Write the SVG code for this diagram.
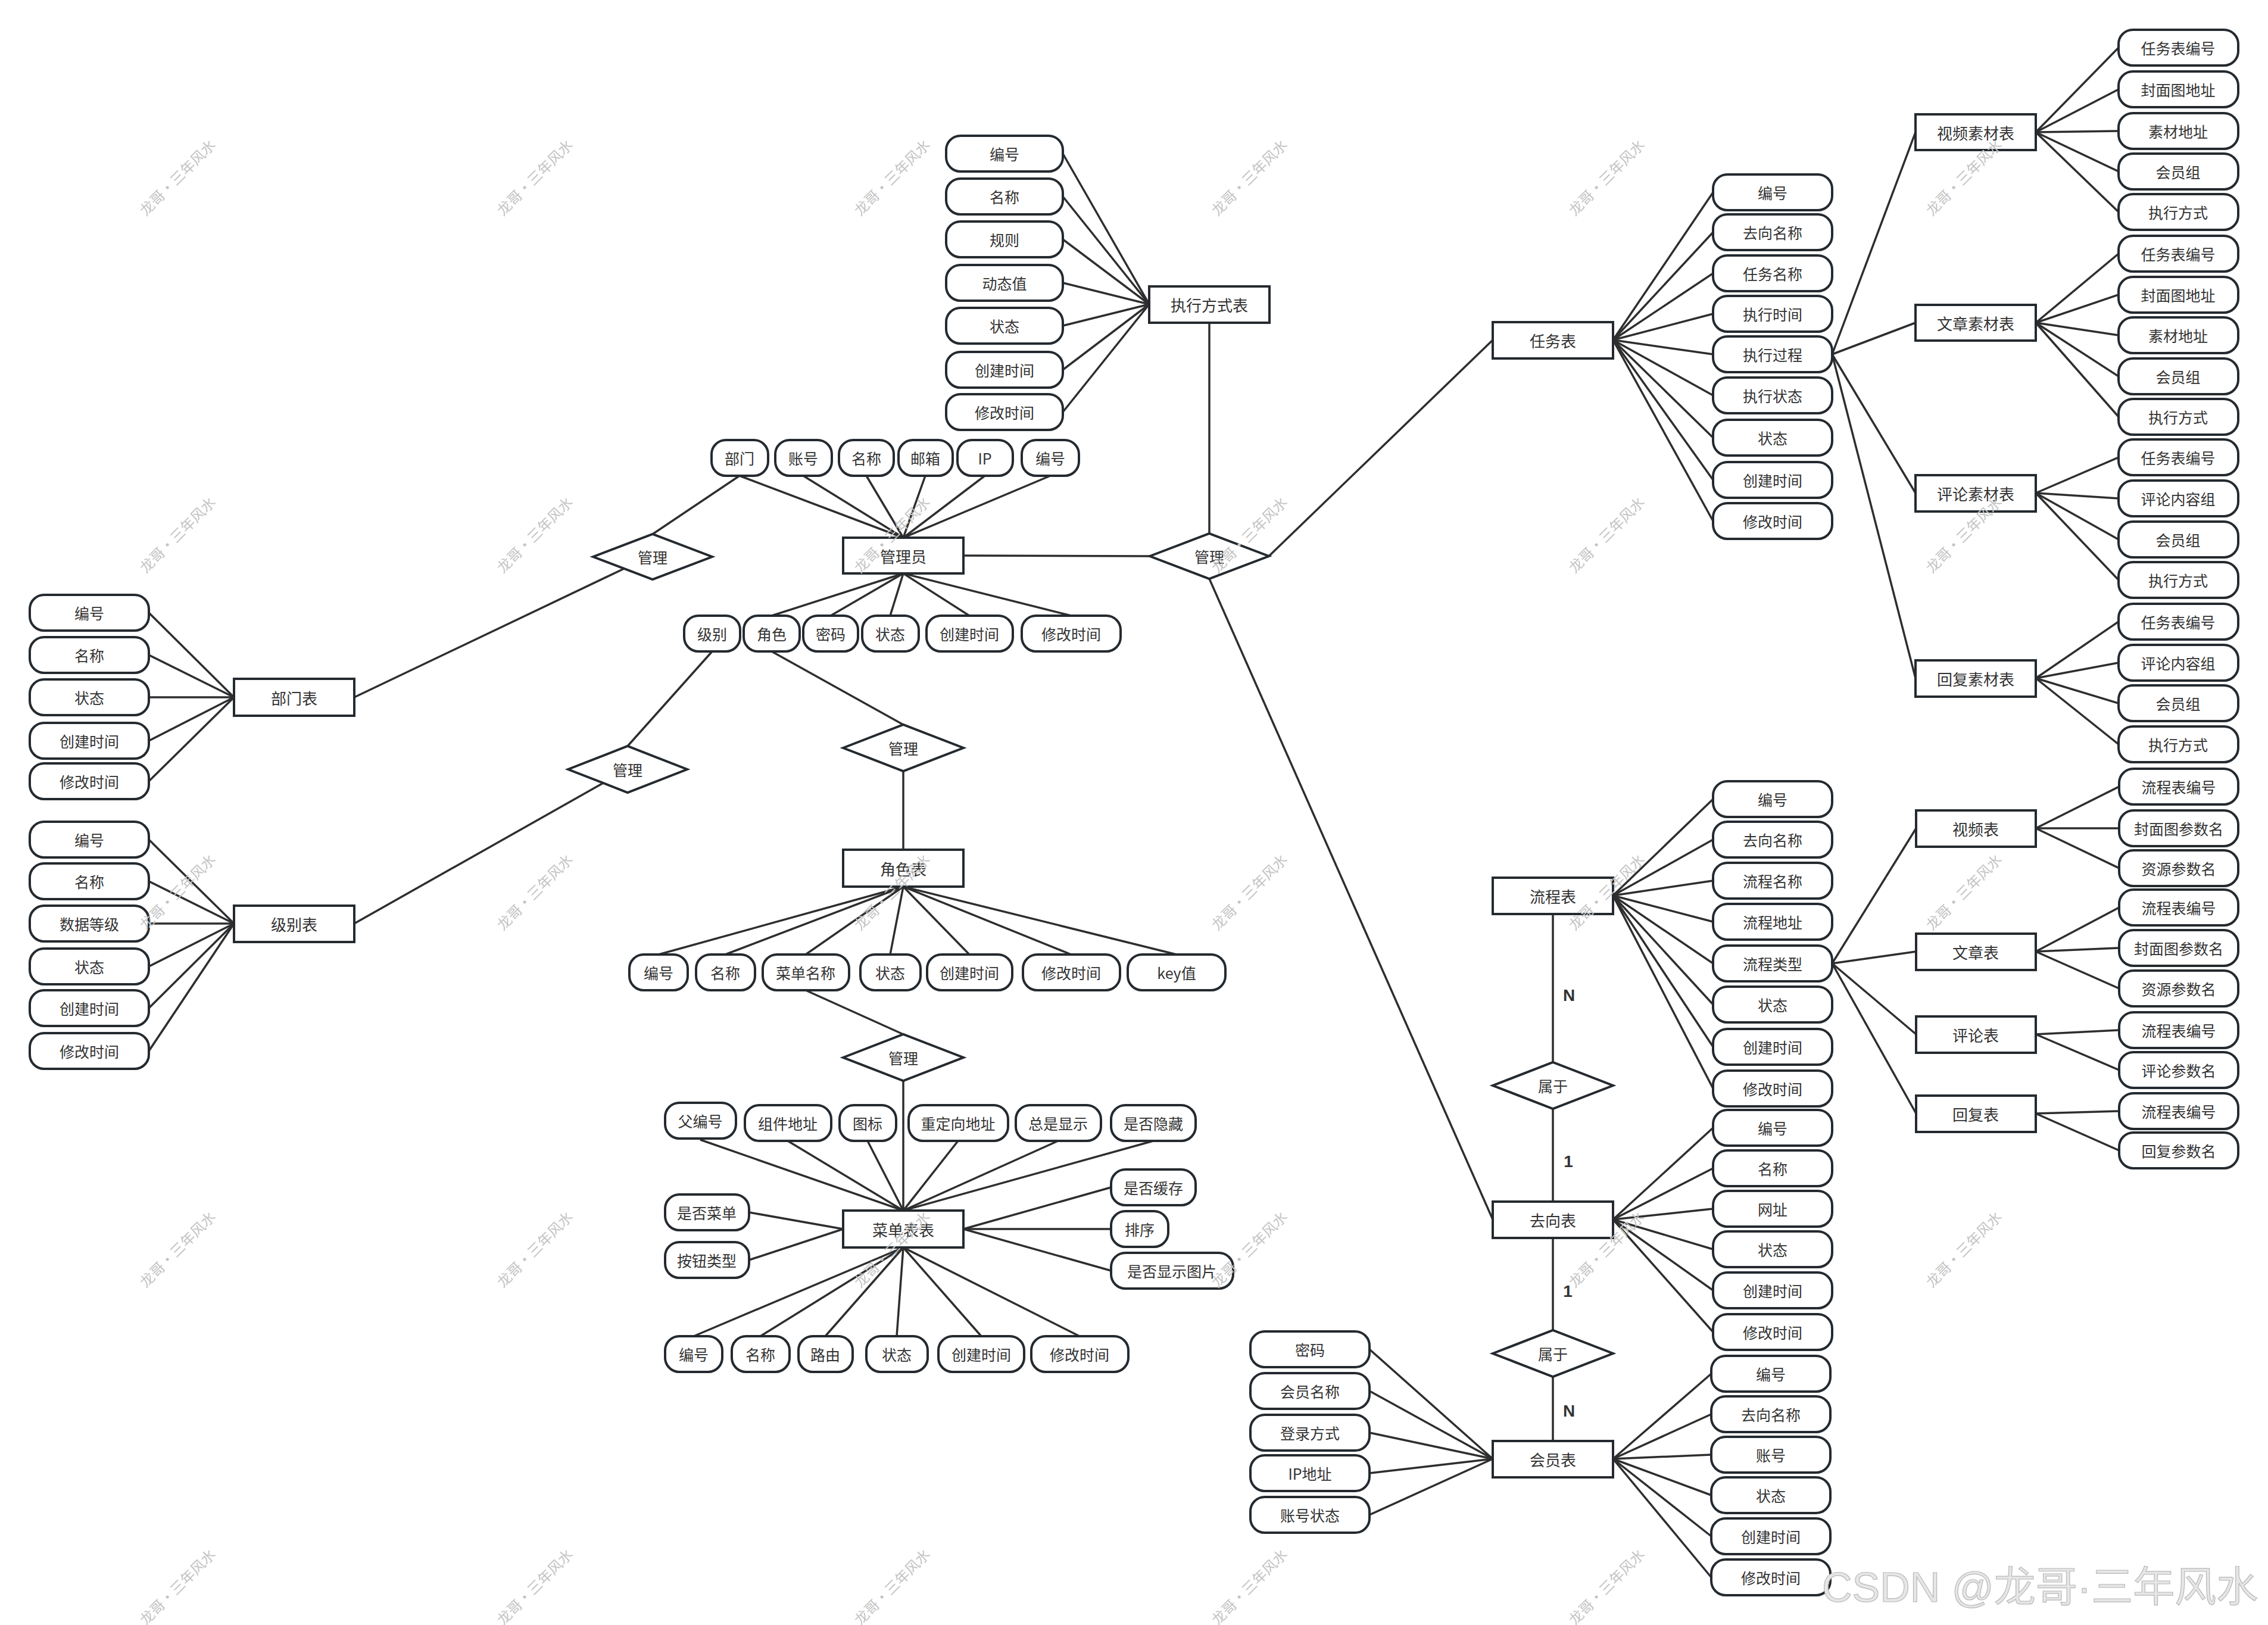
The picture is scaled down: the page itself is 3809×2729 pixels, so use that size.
<svg xmlns="http://www.w3.org/2000/svg" width="3809" height="2729" viewBox="0 0 3809 2729">
<style>
.a{fill:#fff;stroke:#242a2f;stroke-width:4}
.e{fill:#fff;stroke:#242a2f;stroke-width:4}
.d{fill:#fff;stroke:#242a2f;stroke-width:4}
.t{font-family:"Noto Sans CJK SC","Noto Sans",sans-serif;font-size:25px;fill:#333;text-anchor:middle;dominant-baseline:central}
.te{font-size:26px}
.lbl{font-family:"Liberation Sans",Arial,sans-serif;font-weight:bold;font-size:28px;fill:#333;text-anchor:middle;dominant-baseline:central}
#connectors line{stroke:#2e2e2e;stroke-width:3.5}
.wm{font-family:"Noto Sans CJK SC",sans-serif;font-size:24px;fill:#c4c4c4;text-anchor:middle;dominant-baseline:central}
.csdn{font-family:"Liberation Sans","Noto Sans CJK SC",sans-serif;font-size:70px;fill:#e6e6e6;stroke:#b8b8b8;stroke-width:1.2}
</style>
<rect width="3809" height="2729" fill="#fff"/>
<g id="connectors">
<line x1="1785" y1="258" x2="1930" y2="511"/>
<line x1="1785" y1="330" x2="1930" y2="511"/>
<line x1="1785" y1="402" x2="1930" y2="511"/>
<line x1="1785" y1="475" x2="1930" y2="511"/>
<line x1="1785" y1="547" x2="1930" y2="511"/>
<line x1="1785" y1="621" x2="1930" y2="511"/>
<line x1="1785" y1="692" x2="1930" y2="511"/>
<line x1="2031" y1="542" x2="2031" y2="896"/>
<line x1="1242" y1="799" x2="1517" y2="903"/>
<line x1="1349" y1="799" x2="1517" y2="903"/>
<line x1="1455" y1="799" x2="1517" y2="903"/>
<line x1="1554" y1="799" x2="1517" y2="903"/>
<line x1="1654" y1="799" x2="1517" y2="903"/>
<line x1="1764" y1="799" x2="1517" y2="903"/>
<line x1="1517" y1="963" x2="1296" y2="1034"/>
<line x1="1517" y1="963" x2="1395" y2="1034"/>
<line x1="1517" y1="963" x2="1495" y2="1034"/>
<line x1="1517" y1="963" x2="1628" y2="1034"/>
<line x1="1517" y1="963" x2="1799" y2="1034"/>
<line x1="1242" y1="799" x2="1096" y2="897"/>
<line x1="595" y1="1171" x2="1048" y2="955"/>
<line x1="1196" y1="1094" x2="1054" y2="1253"/>
<line x1="595" y1="1551" x2="1013" y2="1315"/>
<line x1="1296" y1="1094" x2="1517" y2="1217"/>
<line x1="1517" y1="1295" x2="1517" y2="1427"/>
<line x1="1517" y1="1489" x2="1106" y2="1603"/>
<line x1="1517" y1="1489" x2="1218" y2="1603"/>
<line x1="1517" y1="1489" x2="1353" y2="1603"/>
<line x1="1517" y1="1489" x2="1495" y2="1603"/>
<line x1="1517" y1="1489" x2="1628" y2="1603"/>
<line x1="1517" y1="1489" x2="1799" y2="1603"/>
<line x1="1517" y1="1489" x2="1976" y2="1603"/>
<line x1="1353" y1="1663" x2="1517" y2="1737"/>
<line x1="1517" y1="1815" x2="1517" y2="2033"/>
<line x1="1176" y1="1914" x2="1517" y2="2033"/>
<line x1="1323" y1="1916" x2="1517" y2="2033"/>
<line x1="1457" y1="1916" x2="1517" y2="2033"/>
<line x1="1609" y1="1916" x2="1517" y2="2033"/>
<line x1="1777" y1="1916" x2="1517" y2="2033"/>
<line x1="1937" y1="1916" x2="1517" y2="2033"/>
<line x1="1258" y1="2036" x2="1416" y2="2064"/>
<line x1="1258" y1="2116" x2="1416" y2="2064"/>
<line x1="1618" y1="2064" x2="1866" y2="1994"/>
<line x1="1618" y1="2064" x2="1866" y2="2064"/>
<line x1="1618" y1="2064" x2="1866" y2="2134"/>
<line x1="1517" y1="2095" x2="1165" y2="2244"/>
<line x1="1517" y1="2095" x2="1277" y2="2244"/>
<line x1="1517" y1="2095" x2="1386" y2="2244"/>
<line x1="1517" y1="2095" x2="1506" y2="2244"/>
<line x1="1517" y1="2095" x2="1648" y2="2244"/>
<line x1="1517" y1="2095" x2="1813" y2="2244"/>
<line x1="1618" y1="933" x2="1931" y2="934"/>
<line x1="2131" y1="934" x2="2507" y2="571"/>
<line x1="2031" y1="972" x2="2507" y2="2048"/>
<line x1="2709" y1="571" x2="2877" y2="323"/>
<line x1="2709" y1="571" x2="2877" y2="390"/>
<line x1="2709" y1="571" x2="2877" y2="459"/>
<line x1="2709" y1="571" x2="2877" y2="527"/>
<line x1="2709" y1="571" x2="2877" y2="595"/>
<line x1="2709" y1="571" x2="2877" y2="664"/>
<line x1="2709" y1="571" x2="2877" y2="735"/>
<line x1="2709" y1="571" x2="2877" y2="806"/>
<line x1="2709" y1="571" x2="2877" y2="875"/>
<line x1="3077" y1="595" x2="3217" y2="222"/>
<line x1="3077" y1="595" x2="3217" y2="542"/>
<line x1="3077" y1="595" x2="3217" y2="828"/>
<line x1="3077" y1="595" x2="3217" y2="1139"/>
<line x1="3419" y1="222" x2="3558" y2="80"/>
<line x1="3419" y1="222" x2="3558" y2="150"/>
<line x1="3419" y1="222" x2="3558" y2="220"/>
<line x1="3419" y1="222" x2="3558" y2="288"/>
<line x1="3419" y1="222" x2="3558" y2="356"/>
<line x1="3419" y1="542" x2="3558" y2="426"/>
<line x1="3419" y1="542" x2="3558" y2="495"/>
<line x1="3419" y1="542" x2="3558" y2="563"/>
<line x1="3419" y1="542" x2="3558" y2="632"/>
<line x1="3419" y1="542" x2="3558" y2="700"/>
<line x1="3419" y1="828" x2="3558" y2="768"/>
<line x1="3419" y1="828" x2="3558" y2="837"/>
<line x1="3419" y1="828" x2="3558" y2="906"/>
<line x1="3419" y1="828" x2="3558" y2="974"/>
<line x1="3419" y1="1139" x2="3558" y2="1044"/>
<line x1="3419" y1="1139" x2="3558" y2="1113"/>
<line x1="3419" y1="1139" x2="3558" y2="1181"/>
<line x1="3419" y1="1139" x2="3558" y2="1250"/>
<line x1="2709" y1="1504" x2="2877" y2="1342"/>
<line x1="2709" y1="1504" x2="2877" y2="1410"/>
<line x1="2709" y1="1504" x2="2877" y2="1479"/>
<line x1="2709" y1="1504" x2="2877" y2="1548"/>
<line x1="2709" y1="1504" x2="2877" y2="1618"/>
<line x1="2709" y1="1504" x2="2877" y2="1687"/>
<line x1="2709" y1="1504" x2="2877" y2="1758"/>
<line x1="2709" y1="1504" x2="2877" y2="1828"/>
<line x1="2608" y1="1535" x2="2608" y2="1784"/>
<line x1="2608" y1="1862" x2="2608" y2="2018"/>
<line x1="2709" y1="2048" x2="2877" y2="1894"/>
<line x1="2709" y1="2048" x2="2877" y2="1962"/>
<line x1="2709" y1="2048" x2="2877" y2="2030"/>
<line x1="2709" y1="2048" x2="2877" y2="2098"/>
<line x1="2709" y1="2048" x2="2877" y2="2167"/>
<line x1="2709" y1="2048" x2="2877" y2="2237"/>
<line x1="2608" y1="2079" x2="2608" y2="2234"/>
<line x1="2608" y1="2312" x2="2608" y2="2420"/>
<line x1="2300" y1="2266" x2="2507" y2="2450"/>
<line x1="2300" y1="2336" x2="2507" y2="2450"/>
<line x1="2300" y1="2406" x2="2507" y2="2450"/>
<line x1="2300" y1="2474" x2="2507" y2="2450"/>
<line x1="2300" y1="2544" x2="2507" y2="2450"/>
<line x1="2709" y1="2450" x2="2874" y2="2307"/>
<line x1="2709" y1="2450" x2="2874" y2="2375"/>
<line x1="2709" y1="2450" x2="2874" y2="2443"/>
<line x1="2709" y1="2450" x2="2874" y2="2511"/>
<line x1="2709" y1="2450" x2="2874" y2="2580"/>
<line x1="2709" y1="2450" x2="2874" y2="2649"/>
<line x1="3077" y1="1618" x2="3218" y2="1391"/>
<line x1="3077" y1="1618" x2="3218" y2="1598"/>
<line x1="3077" y1="1618" x2="3218" y2="1737"/>
<line x1="3077" y1="1618" x2="3218" y2="1870"/>
<line x1="3419" y1="1391" x2="3559" y2="1321"/>
<line x1="3419" y1="1391" x2="3559" y2="1391"/>
<line x1="3419" y1="1391" x2="3559" y2="1458"/>
<line x1="3419" y1="1598" x2="3559" y2="1524"/>
<line x1="3419" y1="1598" x2="3559" y2="1592"/>
<line x1="3419" y1="1598" x2="3559" y2="1660"/>
<line x1="3419" y1="1737" x2="3559" y2="1730"/>
<line x1="3419" y1="1737" x2="3559" y2="1797"/>
<line x1="3419" y1="1870" x2="3559" y2="1866"/>
<line x1="3419" y1="1870" x2="3559" y2="1932"/>
<line x1="250" y1="1029" x2="393" y2="1171"/>
<line x1="250" y1="1100" x2="393" y2="1171"/>
<line x1="250" y1="1171" x2="393" y2="1171"/>
<line x1="250" y1="1244" x2="393" y2="1171"/>
<line x1="250" y1="1312" x2="393" y2="1171"/>
<line x1="250" y1="1410" x2="393" y2="1551"/>
<line x1="250" y1="1480" x2="393" y2="1551"/>
<line x1="250" y1="1551" x2="393" y2="1551"/>
<line x1="250" y1="1623" x2="393" y2="1551"/>
<line x1="250" y1="1693" x2="393" y2="1551"/>
<line x1="250" y1="1765" x2="393" y2="1551"/>
</g>

<!-- 执行方式表 -->
<g id="exec-mode-table"><rect class="e" x="1930" y="481" width="202" height="61"/><text class="t te" x="2031" y="511">执行方式表</text></g>
<g id="exec-attr-1"><rect class="a" x="1589" y="228" width="196" height="60" rx="24"/><text class="t" x="1687" y="258">编号</text></g>
<g id="exec-attr-2"><rect class="a" x="1589" y="300" width="196" height="60" rx="24"/><text class="t" x="1687" y="330">名称</text></g>
<g id="exec-attr-3"><rect class="a" x="1589" y="372" width="196" height="60" rx="24"/><text class="t" x="1687" y="402">规则</text></g>
<g id="exec-attr-4"><rect class="a" x="1589" y="445" width="196" height="60" rx="24"/><text class="t" x="1687" y="475">动态值</text></g>
<g id="exec-attr-5"><rect class="a" x="1589" y="517" width="196" height="60" rx="24"/><text class="t" x="1687" y="547">状态</text></g>
<g id="exec-attr-6"><rect class="a" x="1589" y="591" width="196" height="60" rx="24"/><text class="t" x="1687" y="621">创建时间</text></g>
<g id="exec-attr-7"><rect class="a" x="1589" y="662" width="196" height="60" rx="24"/><text class="t" x="1687" y="692">修改时间</text></g>

<!-- 管理员 -->
<g id="admin"><rect class="e" x="1416" y="903" width="202" height="60"/><text class="t te" x="1517" y="933">管理员</text></g>
<g id="admin-attr-dept"><rect class="a" x="1195" y="739" width="95" height="60" rx="24"/><text class="t" x="1242" y="769">部门</text></g>
<g id="admin-attr-account"><rect class="a" x="1302" y="739" width="95" height="60" rx="24"/><text class="t" x="1349" y="769">账号</text></g>
<g id="admin-attr-name"><rect class="a" x="1409" y="739" width="92" height="60" rx="24"/><text class="t" x="1455" y="769">名称</text></g>
<g id="admin-attr-mail"><rect class="a" x="1509" y="739" width="91" height="60" rx="24"/><text class="t" x="1554" y="769">邮箱</text></g>
<g id="admin-attr-ip"><rect class="a" x="1608" y="739" width="93" height="60" rx="24"/><text class="t" x="1654" y="769">IP</text></g>
<g id="admin-attr-id"><rect class="a" x="1716" y="739" width="96" height="60" rx="24"/><text class="t" x="1764" y="769">编号</text></g>
<g id="admin-attr-level"><rect class="a" x="1149" y="1034" width="94" height="60" rx="24"/><text class="t" x="1196" y="1064">级别</text></g>
<g id="admin-attr-role"><rect class="a" x="1249" y="1034" width="94" height="60" rx="24"/><text class="t" x="1296" y="1064">角色</text></g>
<g id="admin-attr-pwd"><rect class="a" x="1349" y="1034" width="92" height="60" rx="24"/><text class="t" x="1395" y="1064">密码</text></g>
<g id="admin-attr-status"><rect class="a" x="1448" y="1034" width="95" height="60" rx="24"/><text class="t" x="1495" y="1064">状态</text></g>
<g id="admin-attr-ctime"><rect class="a" x="1556" y="1034" width="145" height="60" rx="24"/><text class="t" x="1628" y="1064">创建时间</text></g>
<g id="admin-attr-mtime"><rect class="a" x="1716" y="1034" width="166" height="60" rx="24"/><text class="t" x="1799" y="1064">修改时间</text></g>

<!-- diamonds -->
<g id="rel-admin-dept"><polygon class="d" points="996,935 1096,897 1196,935 1096,973"/><text class="t" x="1096" y="935">管理</text></g>
<g id="rel-admin-level"><polygon class="d" points="954,1292 1054,1253 1154,1292 1054,1331"/><text class="t" x="1054" y="1292">管理</text></g>
<g id="rel-admin-role"><polygon class="d" points="1416,1256 1517,1217 1618,1256 1517,1295"/><text class="t" x="1517" y="1256">管理</text></g>
<g id="rel-role-menu"><polygon class="d" points="1416,1776 1517,1737 1618,1776 1517,1815"/><text class="t" x="1517" y="1776">管理</text></g>
<g id="rel-admin-main"><polygon class="d" points="1931,934 2031,896 2131,934 2031,972"/><text class="t" x="2031" y="934">管理</text></g>
<g id="rel-flow-dest"><polygon class="d" points="2507,1823 2608,1784 2709,1823 2608,1862"/><text class="t" x="2608" y="1823">属于</text></g>
<g id="rel-dest-member"><polygon class="d" points="2507,2273 2608,2234 2709,2273 2608,2312"/><text class="t" x="2608" y="2273">属于</text></g>

<!-- 部门表 -->
<g id="dept-table"><rect class="e" x="393" y="1140" width="202" height="62"/><text class="t te" x="494" y="1171">部门表</text></g>
<g id="dept-attr-1"><rect class="a" x="50" y="999" width="200" height="60" rx="24"/><text class="t" x="150" y="1029">编号</text></g>
<g id="dept-attr-2"><rect class="a" x="50" y="1070" width="200" height="60" rx="24"/><text class="t" x="150" y="1100">名称</text></g>
<g id="dept-attr-3"><rect class="a" x="50" y="1141" width="200" height="60" rx="24"/><text class="t" x="150" y="1171">状态</text></g>
<g id="dept-attr-4"><rect class="a" x="50" y="1214" width="200" height="60" rx="24"/><text class="t" x="150" y="1244">创建时间</text></g>
<g id="dept-attr-5"><rect class="a" x="50" y="1282" width="200" height="60" rx="24"/><text class="t" x="150" y="1312">修改时间</text></g>

<!-- 级别表 -->
<g id="level-table"><rect class="e" x="393" y="1521" width="202" height="61"/><text class="t te" x="494" y="1551">级别表</text></g>
<g id="level-attr-1"><rect class="a" x="50" y="1380" width="200" height="60" rx="24"/><text class="t" x="150" y="1410">编号</text></g>
<g id="level-attr-2"><rect class="a" x="50" y="1450" width="200" height="60" rx="24"/><text class="t" x="150" y="1480">名称</text></g>
<g id="level-attr-3"><rect class="a" x="50" y="1521" width="200" height="60" rx="24"/><text class="t" x="150" y="1551">数据等级</text></g>
<g id="level-attr-4"><rect class="a" x="50" y="1593" width="200" height="60" rx="24"/><text class="t" x="150" y="1623">状态</text></g>
<g id="level-attr-5"><rect class="a" x="50" y="1663" width="200" height="60" rx="24"/><text class="t" x="150" y="1693">创建时间</text></g>
<g id="level-attr-6"><rect class="a" x="50" y="1735" width="200" height="60" rx="24"/><text class="t" x="150" y="1765">修改时间</text></g>

<!-- 角色表 -->
<g id="role-table"><rect class="e" x="1416" y="1427" width="202" height="62"/><text class="t te" x="1517" y="1458">角色表</text></g>
<g id="role-attr-1"><rect class="a" x="1057" y="1603" width="98" height="60" rx="24"/><text class="t" x="1106" y="1633">编号</text></g>
<g id="role-attr-2"><rect class="a" x="1169" y="1603" width="99" height="60" rx="24"/><text class="t" x="1218" y="1633">名称</text></g>
<g id="role-attr-3"><rect class="a" x="1281" y="1603" width="145" height="60" rx="24"/><text class="t" x="1353" y="1633">菜单名称</text></g>
<g id="role-attr-4"><rect class="a" x="1445" y="1603" width="101" height="60" rx="24"/><text class="t" x="1495" y="1633">状态</text></g>
<g id="role-attr-5"><rect class="a" x="1557" y="1603" width="143" height="60" rx="24"/><text class="t" x="1628" y="1633">创建时间</text></g>
<g id="role-attr-6"><rect class="a" x="1718" y="1603" width="163" height="60" rx="24"/><text class="t" x="1799" y="1633">修改时间</text></g>
<g id="role-attr-7"><rect class="a" x="1894" y="1603" width="164" height="60" rx="24"/><text class="t" x="1976" y="1633">key值</text></g>

<!-- 菜单表表 -->
<g id="menu-table"><rect class="e" x="1416" y="2033" width="202" height="62"/><text class="t te" x="1517" y="2064">菜单表表</text></g>
<g id="menu-attr-parent"><rect class="a" x="1117" y="1852" width="119" height="60" rx="24"/><text class="t" x="1176" y="1882">父编号</text></g>
<g id="menu-attr-comp"><rect class="a" x="1251" y="1856" width="145" height="60" rx="24"/><text class="t" x="1323" y="1886">组件地址</text></g>
<g id="menu-attr-icon"><rect class="a" x="1410" y="1856" width="95" height="60" rx="24"/><text class="t" x="1457" y="1886">图标</text></g>
<g id="menu-attr-redirect"><rect class="a" x="1526" y="1856" width="167" height="60" rx="24"/><text class="t" x="1609" y="1886">重定向地址</text></g>
<g id="menu-attr-always"><rect class="a" x="1706" y="1856" width="143" height="60" rx="24"/><text class="t" x="1777" y="1886">总是显示</text></g>
<g id="menu-attr-hidden"><rect class="a" x="1866" y="1856" width="142" height="60" rx="24"/><text class="t" x="1937" y="1886">是否隐藏</text></g>
<g id="menu-attr-ismenu"><rect class="a" x="1117" y="2006" width="141" height="60" rx="24"/><text class="t" x="1187" y="2036">是否菜单</text></g>
<g id="menu-attr-btn"><rect class="a" x="1117" y="2086" width="141" height="60" rx="24"/><text class="t" x="1187" y="2116">按钮类型</text></g>
<g id="menu-attr-cache"><rect class="a" x="1866" y="1964" width="142" height="60" rx="24"/><text class="t" x="1937" y="1994">是否缓存</text></g>
<g id="menu-attr-sort"><rect class="a" x="1866" y="2034" width="96" height="60" rx="24"/><text class="t" x="1914" y="2064">排序</text></g>
<g id="menu-attr-img"><rect class="a" x="1866" y="2104" width="205" height="60" rx="24"/><text class="t" x="1968" y="2134">是否显示图片</text></g>
<g id="menu-attr-id"><rect class="a" x="1117" y="2244" width="96" height="60" rx="24"/><text class="t" x="1165" y="2274">编号</text></g>
<g id="menu-attr-name"><rect class="a" x="1229" y="2244" width="97" height="60" rx="24"/><text class="t" x="1277" y="2274">名称</text></g>
<g id="menu-attr-route"><rect class="a" x="1341" y="2244" width="91" height="60" rx="24"/><text class="t" x="1386" y="2274">路由</text></g>
<g id="menu-attr-status"><rect class="a" x="1455" y="2244" width="103" height="60" rx="24"/><text class="t" x="1506" y="2274">状态</text></g>
<g id="menu-attr-ctime"><rect class="a" x="1576" y="2244" width="144" height="60" rx="24"/><text class="t" x="1648" y="2274">创建时间</text></g>
<g id="menu-attr-mtime"><rect class="a" x="1732" y="2244" width="163" height="60" rx="24"/><text class="t" x="1813" y="2274">修改时间</text></g>

<!-- 任务表 -->
<g id="task-table"><rect class="e" x="2507" y="541" width="202" height="61"/><text class="t te" x="2608" y="571">任务表</text></g>
<g id="task-attr-1"><rect class="a" x="2877" y="293" width="200" height="60" rx="24"/><text class="t" x="2977" y="323">编号</text></g>
<g id="task-attr-2"><rect class="a" x="2877" y="360" width="200" height="60" rx="24"/><text class="t" x="2977" y="390">去向名称</text></g>
<g id="task-attr-3"><rect class="a" x="2877" y="429" width="200" height="60" rx="24"/><text class="t" x="2977" y="459">任务名称</text></g>
<g id="task-attr-4"><rect class="a" x="2877" y="497" width="200" height="60" rx="24"/><text class="t" x="2977" y="527">执行时间</text></g>
<g id="task-attr-5"><rect class="a" x="2877" y="565" width="200" height="60" rx="24"/><text class="t" x="2977" y="595">执行过程</text></g>
<g id="task-attr-6"><rect class="a" x="2877" y="634" width="200" height="60" rx="24"/><text class="t" x="2977" y="664">执行状态</text></g>
<g id="task-attr-7"><rect class="a" x="2877" y="705" width="200" height="60" rx="24"/><text class="t" x="2977" y="735">状态</text></g>
<g id="task-attr-8"><rect class="a" x="2877" y="776" width="200" height="60" rx="24"/><text class="t" x="2977" y="806">创建时间</text></g>
<g id="task-attr-9"><rect class="a" x="2877" y="845" width="200" height="60" rx="24"/><text class="t" x="2977" y="875">修改时间</text></g>

<!-- 素材表 -->
<g id="video-material"><rect class="e" x="3217" y="192" width="202" height="60"/><text class="t te" x="3318" y="222">视频素材表</text></g>
<g id="article-material"><rect class="e" x="3217" y="512" width="202" height="60"/><text class="t te" x="3318" y="542">文章素材表</text></g>
<g id="comment-material"><rect class="e" x="3217" y="798" width="202" height="61"/><text class="t te" x="3318" y="828">评论素材表</text></g>
<g id="reply-material"><rect class="e" x="3217" y="1109" width="202" height="61"/><text class="t te" x="3318" y="1139">回复素材表</text></g>
<g id="vm-attr-1"><rect class="a" x="3558" y="50" width="201" height="60" rx="24"/><text class="t" x="3658" y="80">任务表编号</text></g>
<g id="vm-attr-2"><rect class="a" x="3558" y="120" width="201" height="60" rx="24"/><text class="t" x="3658" y="150">封面图地址</text></g>
<g id="vm-attr-3"><rect class="a" x="3558" y="190" width="201" height="60" rx="24"/><text class="t" x="3658" y="220">素材地址</text></g>
<g id="vm-attr-4"><rect class="a" x="3558" y="258" width="201" height="60" rx="24"/><text class="t" x="3658" y="288">会员组</text></g>
<g id="vm-attr-5"><rect class="a" x="3558" y="326" width="201" height="60" rx="24"/><text class="t" x="3658" y="356">执行方式</text></g>
<g id="am-attr-1"><rect class="a" x="3558" y="396" width="201" height="60" rx="24"/><text class="t" x="3658" y="426">任务表编号</text></g>
<g id="am-attr-2"><rect class="a" x="3558" y="465" width="201" height="60" rx="24"/><text class="t" x="3658" y="495">封面图地址</text></g>
<g id="am-attr-3"><rect class="a" x="3558" y="533" width="201" height="60" rx="24"/><text class="t" x="3658" y="563">素材地址</text></g>
<g id="am-attr-4"><rect class="a" x="3558" y="602" width="201" height="60" rx="24"/><text class="t" x="3658" y="632">会员组</text></g>
<g id="am-attr-5"><rect class="a" x="3558" y="670" width="201" height="60" rx="24"/><text class="t" x="3658" y="700">执行方式</text></g>
<g id="cm-attr-1"><rect class="a" x="3558" y="738" width="201" height="60" rx="24"/><text class="t" x="3658" y="768">任务表编号</text></g>
<g id="cm-attr-2"><rect class="a" x="3558" y="807" width="201" height="60" rx="24"/><text class="t" x="3658" y="837">评论内容组</text></g>
<g id="cm-attr-3"><rect class="a" x="3558" y="876" width="201" height="60" rx="24"/><text class="t" x="3658" y="906">会员组</text></g>
<g id="cm-attr-4"><rect class="a" x="3558" y="944" width="201" height="60" rx="24"/><text class="t" x="3658" y="974">执行方式</text></g>
<g id="rm-attr-1"><rect class="a" x="3558" y="1014" width="201" height="60" rx="24"/><text class="t" x="3658" y="1044">任务表编号</text></g>
<g id="rm-attr-2"><rect class="a" x="3558" y="1083" width="201" height="60" rx="24"/><text class="t" x="3658" y="1113">评论内容组</text></g>
<g id="rm-attr-3"><rect class="a" x="3558" y="1151" width="201" height="60" rx="24"/><text class="t" x="3658" y="1181">会员组</text></g>
<g id="rm-attr-4"><rect class="a" x="3558" y="1220" width="201" height="60" rx="24"/><text class="t" x="3658" y="1250">执行方式</text></g>

<!-- 流程表 -->
<g id="flow-table"><rect class="e" x="2507" y="1474" width="202" height="61"/><text class="t te" x="2608" y="1504">流程表</text></g>
<g id="flow-attr-1"><rect class="a" x="2877" y="1312" width="200" height="60" rx="24"/><text class="t" x="2977" y="1342">编号</text></g>
<g id="flow-attr-2"><rect class="a" x="2877" y="1380" width="200" height="60" rx="24"/><text class="t" x="2977" y="1410">去向名称</text></g>
<g id="flow-attr-3"><rect class="a" x="2877" y="1449" width="200" height="60" rx="24"/><text class="t" x="2977" y="1479">流程名称</text></g>
<g id="flow-attr-4"><rect class="a" x="2877" y="1518" width="200" height="60" rx="24"/><text class="t" x="2977" y="1548">流程地址</text></g>
<g id="flow-attr-5"><rect class="a" x="2877" y="1588" width="200" height="60" rx="24"/><text class="t" x="2977" y="1618">流程类型</text></g>
<g id="flow-attr-6"><rect class="a" x="2877" y="1657" width="200" height="60" rx="24"/><text class="t" x="2977" y="1687">状态</text></g>
<g id="flow-attr-7"><rect class="a" x="2877" y="1728" width="200" height="60" rx="24"/><text class="t" x="2977" y="1758">创建时间</text></g>
<g id="flow-attr-8"><rect class="a" x="2877" y="1798" width="200" height="60" rx="24"/><text class="t" x="2977" y="1828">修改时间</text></g>

<!-- 流程类型 sub tables -->
<g id="video-table"><rect class="e" x="3218" y="1361" width="201" height="61"/><text class="t te" x="3318" y="1391">视频表</text></g>
<g id="article-table"><rect class="e" x="3218" y="1568" width="201" height="61"/><text class="t te" x="3318" y="1598">文章表</text></g>
<g id="comment-table"><rect class="e" x="3218" y="1707" width="201" height="61"/><text class="t te" x="3318" y="1737">评论表</text></g>
<g id="reply-table"><rect class="e" x="3218" y="1840" width="201" height="61"/><text class="t te" x="3318" y="1870">回复表</text></g>
<g id="vt-attr-1"><rect class="a" x="3559" y="1291" width="200" height="60" rx="24"/><text class="t" x="3659" y="1321">流程表编号</text></g>
<g id="vt-attr-2"><rect class="a" x="3559" y="1361" width="200" height="60" rx="24"/><text class="t" x="3659" y="1391">封面图参数名</text></g>
<g id="vt-attr-3"><rect class="a" x="3559" y="1428" width="200" height="60" rx="24"/><text class="t" x="3659" y="1458">资源参数名</text></g>
<g id="at-attr-1"><rect class="a" x="3559" y="1494" width="200" height="60" rx="24"/><text class="t" x="3659" y="1524">流程表编号</text></g>
<g id="at-attr-2"><rect class="a" x="3559" y="1562" width="200" height="60" rx="24"/><text class="t" x="3659" y="1592">封面图参数名</text></g>
<g id="at-attr-3"><rect class="a" x="3559" y="1630" width="200" height="60" rx="24"/><text class="t" x="3659" y="1660">资源参数名</text></g>
<g id="ct-attr-1"><rect class="a" x="3559" y="1700" width="200" height="60" rx="24"/><text class="t" x="3659" y="1730">流程表编号</text></g>
<g id="ct-attr-2"><rect class="a" x="3559" y="1767" width="200" height="60" rx="24"/><text class="t" x="3659" y="1797">评论参数名</text></g>
<g id="rt-attr-1"><rect class="a" x="3559" y="1836" width="200" height="60" rx="24"/><text class="t" x="3659" y="1866">流程表编号</text></g>
<g id="rt-attr-2"><rect class="a" x="3559" y="1902" width="200" height="60" rx="24"/><text class="t" x="3659" y="1932">回复参数名</text></g>

<!-- 去向表 -->
<g id="dest-table"><rect class="e" x="2507" y="2018" width="202" height="61"/><text class="t te" x="2608" y="2048">去向表</text></g>
<g id="dest-attr-1"><rect class="a" x="2877" y="1864" width="200" height="60" rx="24"/><text class="t" x="2977" y="1894">编号</text></g>
<g id="dest-attr-2"><rect class="a" x="2877" y="1932" width="200" height="60" rx="24"/><text class="t" x="2977" y="1962">名称</text></g>
<g id="dest-attr-3"><rect class="a" x="2877" y="2000" width="200" height="60" rx="24"/><text class="t" x="2977" y="2030">网址</text></g>
<g id="dest-attr-4"><rect class="a" x="2877" y="2068" width="200" height="60" rx="24"/><text class="t" x="2977" y="2098">状态</text></g>
<g id="dest-attr-5"><rect class="a" x="2877" y="2137" width="200" height="60" rx="24"/><text class="t" x="2977" y="2167">创建时间</text></g>
<g id="dest-attr-6"><rect class="a" x="2877" y="2207" width="200" height="60" rx="24"/><text class="t" x="2977" y="2237">修改时间</text></g>

<!-- 会员表 -->
<g id="member-table"><rect class="e" x="2507" y="2420" width="202" height="61"/><text class="t te" x="2608" y="2450">会员表</text></g>
<g id="member-attr-pwd"><rect class="a" x="2100" y="2236" width="200" height="60" rx="24"/><text class="t" x="2200" y="2266">密码</text></g>
<g id="member-attr-name"><rect class="a" x="2100" y="2306" width="200" height="60" rx="24"/><text class="t" x="2200" y="2336">会员名称</text></g>
<g id="member-attr-login"><rect class="a" x="2100" y="2376" width="200" height="60" rx="24"/><text class="t" x="2200" y="2406">登录方式</text></g>
<g id="member-attr-ip"><rect class="a" x="2100" y="2444" width="200" height="60" rx="24"/><text class="t" x="2200" y="2474">IP地址</text></g>
<g id="member-attr-accst"><rect class="a" x="2100" y="2514" width="200" height="60" rx="24"/><text class="t" x="2200" y="2544">账号状态</text></g>
<g id="member-attr-1"><rect class="a" x="2874" y="2277" width="200" height="60" rx="24"/><text class="t" x="2974" y="2307">编号</text></g>
<g id="member-attr-2"><rect class="a" x="2874" y="2345" width="200" height="60" rx="24"/><text class="t" x="2974" y="2375">去向名称</text></g>
<g id="member-attr-3"><rect class="a" x="2874" y="2413" width="200" height="60" rx="24"/><text class="t" x="2974" y="2443">账号</text></g>
<g id="member-attr-4"><rect class="a" x="2874" y="2481" width="200" height="60" rx="24"/><text class="t" x="2974" y="2511">状态</text></g>
<g id="member-attr-5"><rect class="a" x="2874" y="2550" width="200" height="60" rx="24"/><text class="t" x="2974" y="2580">创建时间</text></g>
<g id="member-attr-6"><rect class="a" x="2874" y="2619" width="200" height="60" rx="24"/><text class="t" x="2974" y="2649">修改时间</text></g>

<!-- cardinality labels -->
<g id="cardinality">
<text class="lbl" x="2635" y="1671">N</text>
<text class="lbl" x="2634" y="1950">1</text>
<text class="lbl" x="2633" y="2168">1</text>
<text class="lbl" x="2635" y="2369">N</text>
</g>

<!-- watermarks -->
<g id="watermarks">
<text class="wm" transform="translate(297,297) rotate(-45)">龙哥·三年风水</text>
<text class="wm" transform="translate(897,297) rotate(-45)">龙哥·三年风水</text>
<text class="wm" transform="translate(1497,297) rotate(-45)">龙哥·三年风水</text>
<text class="wm" transform="translate(2097,297) rotate(-45)">龙哥·三年风水</text>
<text class="wm" transform="translate(2697,297) rotate(-45)">龙哥·三年风水</text>
<text class="wm" transform="translate(3297,297) rotate(-45)">龙哥·三年风水</text>
<text class="wm" transform="translate(297,897) rotate(-45)">龙哥·三年风水</text>
<text class="wm" transform="translate(897,897) rotate(-45)">龙哥·三年风水</text>
<text class="wm" transform="translate(1497,897) rotate(-45)">龙哥·三年风水</text>
<text class="wm" transform="translate(2097,897) rotate(-45)">龙哥·三年风水</text>
<text class="wm" transform="translate(2697,897) rotate(-45)">龙哥·三年风水</text>
<text class="wm" transform="translate(3297,897) rotate(-45)">龙哥·三年风水</text>
<text class="wm" transform="translate(297,1497) rotate(-45)">龙哥·三年风水</text>
<text class="wm" transform="translate(897,1497) rotate(-45)">龙哥·三年风水</text>
<text class="wm" transform="translate(1497,1497) rotate(-45)">龙哥·三年风水</text>
<text class="wm" transform="translate(2097,1497) rotate(-45)">龙哥·三年风水</text>
<text class="wm" transform="translate(2697,1497) rotate(-45)">龙哥·三年风水</text>
<text class="wm" transform="translate(3297,1497) rotate(-45)">龙哥·三年风水</text>
<text class="wm" transform="translate(297,2097) rotate(-45)">龙哥·三年风水</text>
<text class="wm" transform="translate(897,2097) rotate(-45)">龙哥·三年风水</text>
<text class="wm" transform="translate(1497,2097) rotate(-45)">龙哥·三年风水</text>
<text class="wm" transform="translate(2097,2097) rotate(-45)">龙哥·三年风水</text>
<text class="wm" transform="translate(2697,2097) rotate(-45)">龙哥·三年风水</text>
<text class="wm" transform="translate(3297,2097) rotate(-45)">龙哥·三年风水</text>
<text class="wm" transform="translate(297,2664) rotate(-45)">龙哥·三年风水</text>
<text class="wm" transform="translate(897,2664) rotate(-45)">龙哥·三年风水</text>
<text class="wm" transform="translate(1497,2664) rotate(-45)">龙哥·三年风水</text>
<text class="wm" transform="translate(2097,2664) rotate(-45)">龙哥·三年风水</text>
<text class="wm" transform="translate(2697,2664) rotate(-45)">龙哥·三年风水</text>
<text class="csdn" x="3060" y="2690">CSDN @龙哥·三年风水</text>
</g>
</svg>
